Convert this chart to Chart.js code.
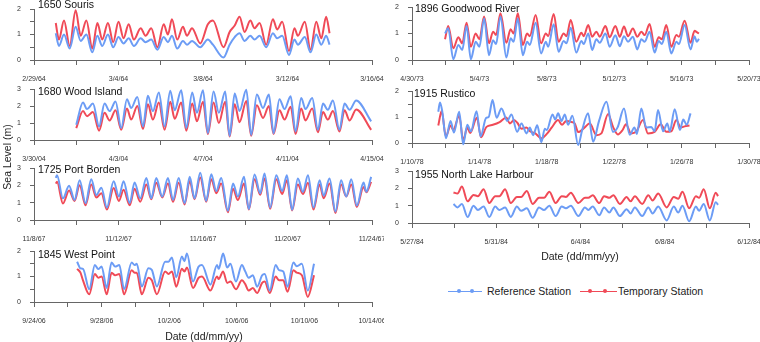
<!DOCTYPE html>
<html>
<head>
<meta charset="utf-8">
<script src="https://cdn.jsdelivr.net/npm/chart.js@4.4.1/dist/chart.umd.min.js"></script>
<style>
  body { margin: 0; background: #fff; }
  #wrap { position: relative; width: 760px; height: 342px; overflow: hidden; font-family: Arial, "Liberation Sans", sans-serif; }
  canvas { position: absolute; }
  .ttl { position: absolute; font-size: 10.5px; line-height: 1; color: #111; white-space: nowrap; z-index: 5; }
  .lab { position: absolute; font-size: 10.5px; line-height: 1; color: #222; white-space: nowrap; }
  .leg-line { position: absolute; height: 1.5px; }
  .leg-dot { position: absolute; width: 4px; height: 4px; border-radius: 2px; }
</style>
</head>
<body>
<div id="wrap">
  <canvas id="c1"></canvas>
  <canvas id="c2"></canvas>
  <canvas id="c3"></canvas>
  <canvas id="c4"></canvas>
  <canvas id="c5"></canvas>
  <canvas id="c6"></canvas>
  <canvas id="c7"></canvas>

  <div class="ttl" style="left:38px;top:-1px">1650 Souris</div>
  <div class="ttl" style="left:415px;top:3px">1896 Goodwood River</div>
  <div class="ttl" style="left:38px;top:86px">1680 Wood Island</div>
  <div class="ttl" style="left:414px;top:88px">1915 Rustico</div>
  <div class="ttl" style="left:38px;top:164px">1725 Port Borden</div>
  <div class="ttl" style="left:415px;top:169px">1955 North Lake Harbour</div>
  <div class="ttl" style="left:38px;top:249px">1845 West Point</div>

  <div class="lab" style="left:7px;top:157px;transform:translate(-50%,-50%) rotate(-90deg)">Sea Level (m)</div>
  <div class="lab" style="left:580px;top:256px;transform:translate(-50%,-50%)">Date (dd/mm/yy)</div>
  <div class="lab" style="left:204px;top:336px;transform:translate(-50%,-50%)">Date (dd/mm/yy)</div>

  <div class="leg-line" style="left:448px;top:290.5px;width:34px;background:#6c9cf5"></div>
  <div class="leg-dot" style="left:457px;top:289px;background:#6c9cf5"></div>
  <div class="leg-dot" style="left:470px;top:289px;background:#6c9cf5"></div>
  <div class="lab" style="left:487px;top:286px">Reference Station</div>
  <div class="leg-line" style="left:580px;top:290.5px;width:37px;background:#f04a57"></div>
  <div class="leg-dot" style="left:588px;top:289px;background:#f04a57"></div>
  <div class="leg-dot" style="left:603px;top:289px;background:#f04a57"></div>
  <div class="lab" style="left:618px;top:286px">Temporary Station</div>
</div>

<script>
// ------------------------------------------------------------------
// Datos: dias desde el inicio del eje, nivel del mar (m)
// ------------------------------------------------------------------
const sourisTicks = ['2/29/64', '3/4/64', '3/8/64', '3/12/64', '3/16/64'];
const sourisDays = [1.03,1.18,1.42,1.69,1.97,2.21,2.48,2.76,3.0,3.23,3.5,3.75,4.0,4.24,4.48,4.73,5.05,5.28,5.55,5.84,6.14,6.34,6.53,6.78,7.05,7.24,7.48,7.87,8.23,8.47,8.97,9.26,9.5,9.73,9.97,10.24,10.44,10.68,10.99,11.31,11.51,11.75,12.07,12.33,12.49,12.82,13.09,13.36,13.6,13.83,13.99];
const sourisRef = [1.05,0.55,1.0,0.45,1.3,0.75,1.0,0.3,0.95,0.55,1.0,0.5,0.9,0.65,0.85,0.55,0.85,0.7,0.8,0.4,0.9,0.7,0.95,0.45,0.75,0.6,0.75,0.5,0.8,0.6,0.1,0.6,0.9,1.05,0.75,0.95,0.8,0.95,0.5,1.05,0.85,0.95,0.2,0.8,0.6,0.9,0.3,1.0,0.6,0.95,0.6];
const sourisTmp = [1.45,0.8,1.55,0.55,1.95,0.95,1.55,0.45,1.45,0.8,1.45,0.7,1.5,0.85,1.4,0.8,1.25,0.95,1.25,0.5,1.4,1.0,1.6,0.8,1.3,0.95,1.25,0.65,1.4,1.55,0.5,1.1,1.35,1.7,1.1,1.55,1.25,1.45,0.6,1.6,1.2,1.5,0.35,1.25,0.95,1.5,0.4,1.5,0.85,1.7,1.05];

const goodwoodTicks = ['4/30/73', '5/4/73', '5/8/73', '5/12/73', '5/16/73', '5/20/73'];
const goodwoodDays = [1.96,2.15,2.45,2.75,2.98,3.24,3.49,3.78,4.0,4.28,4.57,4.81,4.99,5.25,5.6,5.85,6.03,6.28,6.58,6.83,6.99,7.34,7.66,7.94,8.08,8.41,8.7,9.0,9.17,9.42,9.75,10.05,10.19,10.46,10.69,10.94,11.14,11.48,11.73,12.07,12.33,12.58,12.82,13.11,13.37,13.61,13.81,14.1,14.4,14.64,14.83,15.09,15.39,15.69,15.84,16.18,16.53,16.77,16.9,17.03];
const goodwoodRef = [1.0,1.2,0.03,0.57,0.38,1.28,0.03,0.69,0.5,1.57,0.18,0.75,0.6,1.64,0.09,0.82,0.69,1.57,0.18,0.69,0.57,1.41,0.25,0.69,0.5,1.35,0.31,0.72,0.63,1.22,0.28,0.72,0.6,1.0,0.38,0.78,0.65,1.0,0.5,0.93,0.52,0.9,0.69,0.88,0.4,0.78,0.69,1.07,0.28,0.72,0.6,1.07,0.25,0.69,0.6,1.32,0.4,0.9,0.69,0.8];
const goodwoodTmp = [0.78,1.28,0.44,0.86,0.63,1.41,0.5,1.0,0.78,1.64,0.63,1.07,0.94,1.76,0.65,1.16,1.0,1.76,0.57,1.0,0.9,1.7,0.63,1.0,0.9,1.74,0.69,1.0,0.9,1.51,0.69,1.03,0.9,1.32,0.88,1.07,0.88,1.28,0.86,1.28,0.88,1.26,0.9,1.19,0.88,1.07,0.94,1.36,0.5,0.86,0.78,1.32,0.5,0.94,0.88,1.48,0.65,1.1,1.05,1.0];

const woodIslandTicks = ['3/30/04', '4/3/04', '4/7/04', '4/11/04', '4/15/04'];
const woodIslandDays = [2.0,2.32,2.51,2.79,3.08,3.34,3.58,3.86,4.13,4.4,4.6,4.89,5.16,5.39,5.63,5.91,6.18,6.45,6.66,6.97,7.21,7.49,7.71,8.0,8.23,8.5,8.75,9.05,9.26,9.5,9.73,10.05,10.28,10.55,10.84,11.12,11.34,11.62,11.86,12.15,12.38,12.65,12.85,13.17,13.44,13.68,13.91,14.15,14.46,14.7,14.94,15.25,15.96];
const woodIslandRef = [0.9,2.2,1.82,2.14,0.8,2.14,1.7,2.27,0.7,2.4,1.88,2.53,0.8,2.6,1.7,2.8,0.8,2.9,1.75,2.92,0.7,2.8,1.6,2.92,0.41,2.86,1.6,2.86,0.25,2.73,1.7,2.96,0.3,2.67,1.88,2.67,0.4,2.4,1.82,2.57,0.5,2.47,1.82,2.47,0.6,2.14,1.78,2.33,0.6,2.14,1.78,2.33,1.1];
const woodIslandTmp = [0.7,1.7,1.4,1.65,0.55,1.6,1.15,1.75,0.6,1.85,1.2,2.0,0.65,2.1,1.2,2.2,0.6,2.25,1.25,2.2,0.55,2.15,1.1,2.25,0.35,2.2,1.0,2.25,0.2,2.1,1.05,2.3,0.25,2.05,1.3,2.0,0.35,1.75,1.2,1.95,0.35,1.85,1.15,1.85,0.45,1.65,1.2,1.7,0.5,1.75,1.15,1.8,0.6];

const rusticoTicks = ['1/10/78', '1/14/78', '1/18/78', '1/22/78', '1/26/78', '1/30/78'];
const rusticoRefDays = [1.56,1.66,1.8,2.01,2.29,2.49,2.8,3.04,3.28,3.5,3.83,4.07,4.4,4.55,4.78,5.02,5.31,5.65,5.9,6.24,6.5,6.8,6.99,7.19,7.43,7.68,7.88,8.0,8.34,8.5,8.67,8.87,9.07,9.26,9.52,9.86,10.1,10.45,10.75,11.1,11.54,11.93,12.2,12.58,12.92,13.2,13.35,13.61,13.9,14.2,14.4,14.6,14.9,15.15,15.3,15.59,15.9,16.1,16.3,16.53];
const rusticoRef = [1.2,1.56,1.2,0.18,0.85,0.4,1.2,-0.05,0.7,0.45,1.22,0.25,0.97,1.0,1.65,0.97,1.33,0.85,1.1,0.43,0.75,0.37,0.6,0.3,0.68,0.03,0.55,0.5,1.1,0.9,1.14,0.85,1.1,0.7,1.05,-0.08,0.5,1.14,0.05,0.85,1.59,0.43,0.6,1.33,0.32,0.6,0.35,1.33,0.6,0.62,0.45,1.27,0.45,0.75,0.45,1.3,0.5,0.9,0.7,1.14];
const rusticoTmpDays = [1.56,1.76,2.01,2.29,2.45,2.8,3.04,3.28,3.45,3.85,4.1,4.42,4.8,5.2,5.6,5.8,6.05,6.25,6.5,6.8,7.0,7.3,7.68,8.0,8.3,8.67,8.9,9.15,9.5,9.66,9.86,10.25,10.55,10.94,11.24,11.64,11.93,12.22,12.5,12.7,13.0,13.3,13.71,14.0,14.4,14.76,15.09,15.39,15.69,15.95,16.18,16.47];
const rusticoTmp = [0.67,1.23,0.25,0.67,0.5,1.05,0.1,0.6,0.38,0.97,0.22,0.62,0.7,0.8,0.98,0.75,0.88,0.78,0.55,0.6,0.45,0.38,0.18,0.35,0.6,0.88,0.7,0.85,0.8,0.75,0.42,0.6,0.76,0.3,0.37,1.12,0.62,0.33,0.5,0.72,0.37,0.43,0.88,0.37,0.43,0.72,0.43,0.45,0.88,0.6,0.64,0.67];

const portBordenTicks = ['11/8/67', '11/12/67', '11/16/67', '11/20/67', '11/24/67'];
const portBordenDays = [1.03,1.09,1.37,1.66,1.92,2.16,2.44,2.71,2.95,3.19,3.45,3.77,4.02,4.24,4.53,4.76,5.03,5.32,5.55,5.79,6.07,6.34,6.58,6.85,7.13,7.37,7.6,7.87,8.15,8.39,8.63,8.86,9.18,9.42,9.65,9.94,10.17,10.44,10.71,10.91,11.18,11.47,11.75,11.97,12.22,12.49,12.73,12.97,13.23,13.52,13.71,13.99,14.27,14.54,14.78,15.02,15.28,15.6,15.73,15.96];
const portBordenRef = [2.43,2.58,1.25,1.97,1.16,2.3,0.97,2.35,1.44,1.86,0.72,2.24,1.35,2.24,0.97,2.16,1.25,2.43,1.25,2.43,1.35,2.43,1.16,2.43,0.97,2.49,1.25,2.73,1.1,2.64,1.67,2.43,0.53,2.1,1.35,2.49,0.63,2.62,1.54,2.68,0.72,2.58,1.67,2.58,0.59,2.39,1.63,2.58,0.72,2.3,1.4,2.39,0.49,2.3,1.35,2.35,0.83,2.16,1.63,2.49];
const portBordenTmp = [2.1,2.2,0.95,1.7,1.1,2.0,0.85,2.05,1.3,1.55,0.6,1.85,1.1,1.75,0.85,1.8,1.05,2.05,1.2,2.15,1.3,2.1,1.05,2.15,0.9,2.25,1.2,2.45,1.05,2.35,1.55,2.1,0.45,1.8,1.15,2.1,0.6,2.35,1.45,2.4,0.65,2.35,1.5,2.3,0.55,2.05,1.5,2.15,0.6,2.05,1.25,2.1,0.4,2.05,1.35,2.05,0.75,1.9,1.6,2.2];

const northLakeTicks = ['5/27/84', '5/31/84', '6/4/84', '6/8/84', '6/12/84'];
const northLakeDays = [1.97,2.16,2.37,2.64,2.92,3.13,3.4,3.67,3.95,4.15,4.42,4.69,4.98,5.18,5.45,5.73,6.03,6.27,6.52,6.82,7.11,7.31,7.54,7.9,8.21,8.37,8.58,8.89,9.12,9.37,9.56,9.87,10.19,10.38,10.58,10.93,11.22,11.42,11.69,12.09,12.43,12.64,12.84,13.16,13.48,13.63,13.85,14.14,14.42,14.53];
const northLakeRef = [1.1,0.9,1.1,0.35,1.0,0.75,0.95,0.35,0.95,0.75,0.9,0.35,0.95,0.7,0.85,0.3,0.9,0.75,1.0,0.4,0.95,0.85,1.0,0.4,0.9,0.75,0.95,0.45,0.9,0.6,0.9,0.4,0.8,0.55,0.9,0.4,0.9,0.55,0.95,0.15,0.95,0.6,1.0,0.1,0.95,0.7,1.1,0.15,1.2,1.05];
const northLakeTmp = [1.76,1.7,2.1,1.25,1.62,1.55,1.95,1.15,1.55,1.55,1.95,1.15,1.5,1.5,1.85,1.1,1.45,1.45,1.8,1.15,1.55,1.5,1.75,1.15,1.45,1.45,1.6,1.15,1.55,1.45,1.6,1.1,1.5,1.25,1.55,1.1,1.6,1.3,1.7,0.9,1.5,1.4,1.8,0.85,1.55,1.45,1.95,0.85,1.75,1.55];

const westPointTicks = ['9/24/06', '9/28/06', '10/2/06', '10/6/06', '10/10/06', '10/14/06'];
const westPointDays = [2.55,2.75,2.9,3.27,3.6,3.8,4.0,4.3,4.59,4.8,5.05,5.33,5.78,5.95,6.08,6.38,6.77,6.97,7.27,7.76,7.96,8.16,8.42,8.75,8.9,9.05,9.41,9.74,9.94,10.44,10.83,10.93,11.19,11.43,11.62,11.95,12.3,12.5,12.7,12.95,13.2,13.5,13.65,13.95,14.3,14.5,14.75,15.0,15.35,15.55,15.85,16.2,16.57];
const westPointRef = [1.58,1.32,1.3,0.5,1.45,1.29,1.39,0.55,1.55,1.39,1.45,0.5,1.55,1.45,1.5,0.61,1.32,1.26,0.61,1.58,1.58,1.75,0.97,1.78,1.6,1.9,0.8,1.39,1.45,0.68,1.45,1.3,1.9,1.35,1.5,0.8,1.45,1.2,0.95,1.05,0.6,1.05,1.1,0.45,1.45,1.25,1.2,0.6,1.55,1.4,1.5,0.45,1.5];
const westPointTmp = [1.3,1.15,0.85,0.3,1.1,0.95,1.0,0.3,1.15,1.05,1.1,0.3,1.25,1.15,1.15,0.3,0.95,0.85,0.3,1.2,1.1,1.2,0.6,1.3,1.2,1.35,0.55,0.95,1.0,0.45,1.0,0.9,1.2,0.75,0.8,0.5,0.85,0.7,0.45,0.55,0.35,0.75,0.8,0.35,1.0,0.85,0.85,0.4,1.25,1.15,1.05,0.2,1.05];

// Colores
const BLUE = '#6c9cf5';
const RED = '#f04a57';
const AXIS = '#666';

// junta dias y niveles en puntos {x, y}
function toPoints(days, levels) {
    let pts = [];
    for (let i = 0; i < days.length; i++) {
        pts.push({x: days[i], y: levels[i]});
    }
    return pts;
}

// dibuja un panel; L,R,T,B = bordes del area de trazado en pixeles de la pagina
function drawPanel(id, L, R, T, B, yMax, ticks, refDays, refLevels, tmpDays, tmpLevels) {
    const cnv = document.getElementById(id);
    const w = R - L + 46;
    const h = B - T + 38;
    cnv.width = w;
    cnv.height = h;
    cnv.style.left = (L - 34) + 'px';
    cnv.style.top = (T - 12) + 'px';
    const nDays = (ticks.length - 1) * 4;

    new Chart(cnv, {
        type: 'line',
        data: {
            datasets: [{
                    label: 'Reference Station',
                    data: toPoints(refDays, refLevels),
                    borderColor: BLUE,
                    borderWidth: 2,
                    pointRadius: 0,
                    cubicInterpolationMode: 'monotone',
                    clip: 6,
                },
                {
                    label: 'Temporary Station',
                    data: toPoints(tmpDays, tmpLevels),
                    borderColor: RED,
                    borderWidth: 2,
                    pointRadius: 0,
                    cubicInterpolationMode: 'monotone',
                    clip: 6,
                },
            ],
        },
        options: {
            responsive: false,
            animation: false,
            devicePixelRatio: 1,
            layout: { padding: { left: 0, top: 12, right: 12, bottom: 0 } },
            plugins: { legend: { display: false }, tooltip: { enabled: false } },
            scales: {
                x: {
                    type: 'linear',
                    min: 0,
                    max: nDays,
                    afterFit: (s) => { s.height = 26; s.paddingLeft = 0; s.paddingRight = 0; },
                    grid: { drawOnChartArea: false, tickLength: 5, color: AXIS },
                    border: { color: AXIS },
                    ticks: {
                        stepSize: 2,
                        autoSkip: false,
                        maxRotation: 0,
                        padding: 10,
                        color: '#333',
                        font: { family: 'Arial', size: 7 },
                        callback: (v) => (v % 4 === 0 ? ticks[v / 4] : ''),
                    },
                },
                y: {
                    min: 0,
                    max: yMax,
                    afterFit: (s) => { s.width = 34; s.paddingTop = 0; s.paddingBottom = 0; },
                    grid: { drawOnChartArea: false, tickLength: 4, color: AXIS },
                    border: { color: AXIS },
                    ticks: {
                        stepSize: 0.5,
                        padding: 9,
                        color: '#333',
                        font: { family: 'Arial', size: 7 },
                        callback: (v) => (Number.isInteger(v) ? String(v) : ''),
                    },
                },
            },
        },
    });
}

drawPanel('c1', 34, 372, 9, 60, 2, sourisTicks, sourisDays, sourisRef, sourisDays, sourisTmp);
drawPanel('c2', 412, 749, 7, 60, 2, goodwoodTicks, goodwoodDays, goodwoodRef, goodwoodDays, goodwoodTmp);
drawPanel('c3', 34, 372, 89, 140, 3, woodIslandTicks, woodIslandDays, woodIslandRef, woodIslandDays, woodIslandTmp);
drawPanel('c4', 412, 749, 91, 143, 2, rusticoTicks, rusticoRefDays, rusticoRef, rusticoTmpDays, rusticoTmp);
drawPanel('c5', 34, 372, 168, 220, 3, portBordenTicks, portBordenDays, portBordenRef, portBordenDays, portBordenTmp);
drawPanel('c6', 412, 749, 171, 223, 3, northLakeTicks, northLakeDays, northLakeRef, northLakeDays, northLakeTmp);
drawPanel('c7', 34, 372, 251, 302, 2, westPointTicks, westPointDays, westPointRef, westPointDays, westPointTmp);
</script>
</body>
</html>
